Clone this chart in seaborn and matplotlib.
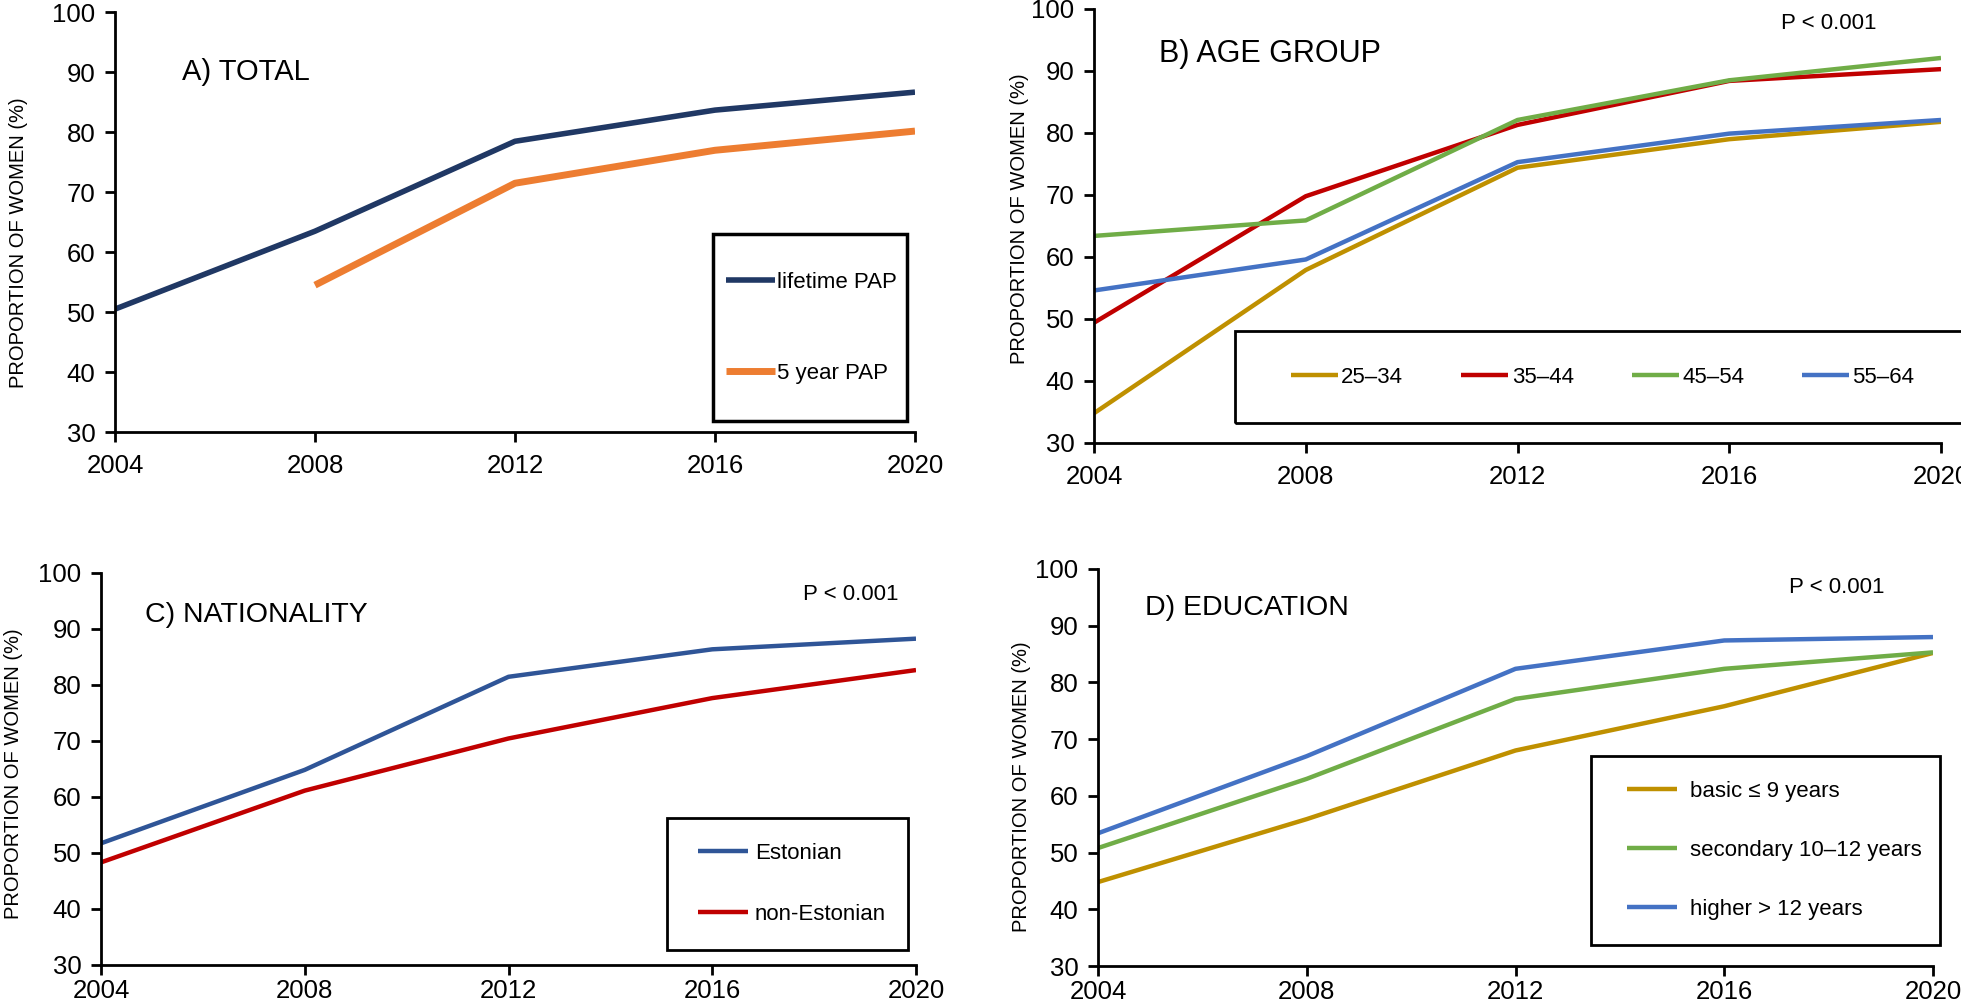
import matplotlib
matplotlib.use("Agg")
import matplotlib.pyplot as plt
from matplotlib.patches import Rectangle
import seaborn as sns
import pandas as pd

# ---------------- data ----------------
years = [2004, 2008, 2012, 2016, 2020]

# A) total
total_labels = ["lifetime PAP", "5 year PAP"]
lifetime_pap = [50.5, 63.5, 78.5, 83.7, 86.7]
five_year_pap = [None, 54.5, 71.5, 77.0, 80.2]

# B) age group
age_labels = ["25\u201334", "35\u201344", "45\u201354", "55\u201364"]
age_25_34 = [34.8, 57.9, 74.4, 79.0, 81.8]
age_35_44 = [49.4, 69.8, 81.3, 88.4, 90.3]
age_45_54 = [63.4, 65.9, 82.1, 88.5, 92.1]
age_55_64 = [54.6, 59.6, 75.3, 79.9, 82.1]

# C) nationality
nat_labels = ["Estonian", "non-Estonian"]
estonian = [51.7, 64.8, 81.4, 86.3, 88.2]
non_estonian = [48.3, 61.1, 70.4, 77.6, 82.6]

# D) education
edu_labels = ["basic \u2264 9 years", "secondary 10\u201312 years", "higher > 12 years"]
edu_basic = [44.8, 55.9, 68.0, 75.8, 85.2]
edu_secondary = [50.8, 63.0, 77.1, 82.4, 85.3]
edu_higher = [53.4, 67.0, 82.4, 87.4, 88.0]

panel_titles = ["A) TOTAL", "B) AGE GROUP", "C) NATIONALITY", "D) EDUCATION"]
y_label = "PROPORTION OF WOMEN (%)"
p_text = "P < 0.001"

# ---------------- style ----------------
sns.set_style("ticks")
NARROW = ["Liberation Sans Narrow", "Liberation Sans", "DejaVu Sans"]
WIDE = ["Liberation Sans", "DejaVu Sans"]
plt.rcParams["font.family"] = NARROW
plt.rcParams["text.color"] = "black"
plt.rcParams["axes.labelcolor"] = "black"
plt.rcParams["xtick.color"] = "black"
plt.rcParams["ytick.color"] = "black"
plt.rcParams["axes.linewidth"] = 2.0
plt.rcParams["xtick.major.width"] = 2.0
plt.rcParams["ytick.major.width"] = 2.0

W, H = 1961, 1006
fig = plt.figure(figsize=(W / 100, H / 100), dpi=100)


def make_ax(left, top, right, bottom):
    return fig.add_axes([left / W, (H - bottom) / H, (right - left) / W, (bottom - top) / H])


axA = make_ax(115, 12.4, 915, 432)
axB = make_ax(1094, 9, 1941, 443)
axC = make_ax(101, 572.5, 916, 965)
axD = make_ax(1098, 569, 1933, 966)


def draw(ax, series, labels, colors, widths):
    for vals, lab, col, lw in zip(series, labels, colors, widths):
        df = pd.DataFrame({"year": years, "value": vals}).dropna()
        sns.lineplot(data=df, x="year", y="value", ax=ax, color=col, linewidth=lw,
                     label=lab, legend=False, solid_capstyle="butt")


draw(axA, [lifetime_pap, five_year_pap], total_labels, ["#203864", "#ED7D31"], [4.0, 5.0])
draw(axB, [age_25_34, age_35_44, age_45_54, age_55_64], age_labels,
     ["#BF9000", "#C00000", "#70AD47", "#4472C4"], [3.2, 3.2, 3.2, 3.2])
draw(axC, [estonian, non_estonian], nat_labels, ["#2F5597", "#C00000"], [3.2, 3.2])
draw(axD, [edu_basic, edu_secondary, edu_higher], edu_labels,
     ["#BF9000", "#70AD47", "#4472C4"], [3.2, 3.2, 3.2])

ylab_pos = {axA: (-87 / 800, 0.452), axB: (-65 / 847, 0.516),
            axC: (-78 / 815, 0.487), axD: (-67 / 835, 0.4525)}

for ax in [axA, axB, axC, axD]:
    ax.set_xlim(2004, 2020)
    ax.set_ylim(30, 100)
    ax.set_xticks(years)
    ax.set_yticks(range(30, 101, 10))
    ax.set_xlabel("")
    ax.set_ylabel(y_label, family=WIDE, fontsize=14.5, color="black")
    ax.yaxis.set_label_coords(*ylab_pos[ax])
    ax.tick_params(axis="both", direction="out", length=7, labelsize=18.5, color="black",
                   labelcolor="black")
    ax.tick_params(axis="x", pad=9 if ax in (axA, axB) else 3)
    ax.tick_params(axis="y", pad=7)
    for s in ["top", "right"]:
        ax.spines[s].set_visible(False)
    for s in ["left", "bottom"]:
        ax.spines[s].set_color("black")

# titles
axA.text(2004 + 0.084 * 16, 90.0, panel_titles[0], fontsize=21, va="center")
axB.text(2004 + 0.077 * 16, 92.7, panel_titles[1], fontsize=22, va="center", family=WIDE)
axC.text(2004 + 0.054 * 16, 92.5, panel_titles[2], fontsize=20.5, va="center")
axD.text(2004 + 0.056 * 16, 93.2, panel_titles[3], fontsize=20.5, va="center")

# p-values
axB.text(2004 + 0.867 * 16, 97.7, p_text, fontsize=16, ha="center", va="center")
axC.text(2004 + 0.92 * 16, 96.0, p_text, fontsize=16, ha="center", va="center")
axD.text(2004 + 0.885 * 16, 96.8, p_text, fontsize=16, ha="center", va="center")


def box(ax, x, y, w, h, lw):
    ax.add_patch(Rectangle((x, y), w, h, transform=ax.transAxes, fill=False,
                           edgecolor="black", linewidth=lw, clip_on=False, zorder=5))


box(axA, 0.748, 0.026, 0.242, 0.445, 2.5)
box(axB, 0.166, 0.045, 0.86, 0.212, 2.0)
box(axC, 0.694, 0.038, 0.296, 0.336, 2.0)
box(axD, 0.590, 0.053, 0.418, 0.477, 2.0)

leg_fs = 16
fs_px = leg_fs * 100 / 72.0

axA.legend(handles=axA.lines[:2], labels=total_labels, loc="center left",
           bbox_to_anchor=(0.764, 0.249), frameon=False, fontsize=leg_fs,
           borderpad=0, borderaxespad=0, handlelength=49 / fs_px, handletextpad=0.1,
           labelspacing=70 / fs_px)
axB.legend(handles=axB.lines[:4], labels=age_labels, loc="center left", ncol=4,
           bbox_to_anchor=(0.2326, 0.151), frameon=False, fontsize=leg_fs,
           borderpad=0, borderaxespad=0, handlelength=47 / fs_px, handletextpad=0.15,
           columnspacing=58 / fs_px)
axC.legend(handles=axC.lines[:2], labels=nat_labels, loc="center left",
           bbox_to_anchor=(0.7325, 0.2065), frameon=False, fontsize=leg_fs,
           borderpad=0, borderaxespad=0, handlelength=50 / fs_px, handletextpad=0.3,
           labelspacing=40 / fs_px)
axD.legend(handles=axD.lines[:3], labels=edu_labels, loc="center left",
           bbox_to_anchor=(0.633, 0.291), frameon=False, fontsize=leg_fs,
           borderpad=0, borderaxespad=0, handlelength=50 / fs_px, handletextpad=0.6,
           labelspacing=38 / fs_px)

for ax in [axA, axB, axC, axD]:
    for t in ax.get_legend().get_texts():
        t.set_color("black")

fig.savefig("out.png", dpi=100)
